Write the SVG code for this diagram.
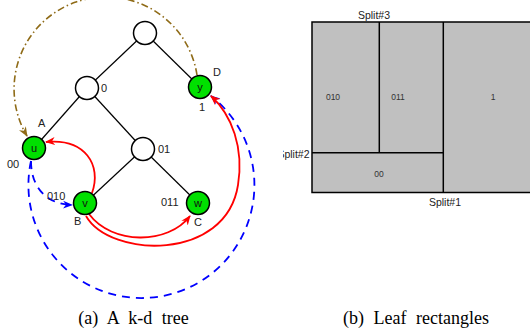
<svg xmlns="http://www.w3.org/2000/svg" width="530" height="331" viewBox="0 0 530 331">
<style>
.e{stroke:#000;stroke-width:1.2;fill:none}
.n{stroke:#000;stroke-width:1.5;fill:#fff}
.g{fill:#00e000}
.t{font-family:"Liberation Sans",Arial,sans-serif;font-size:11px;fill:#222}
.nt{font-family:"Liberation Sans",Arial,sans-serif;font-size:11px;fill:#111;text-anchor:middle}
.r{stroke:#f00;stroke-width:1.8;fill:none}
.b{stroke:#00f;stroke-width:1.8;fill:none;stroke-dasharray:8 6}
.br{stroke:#8f6b17;stroke-width:1.6;fill:none;stroke-dasharray:7 3 1.5 3}
.pt{font-family:"Liberation Sans",Arial,sans-serif;font-size:8.5px;fill:#333;text-anchor:middle}
.st{font-family:"Liberation Sans",Arial,sans-serif;font-size:10.5px;fill:#222}
.cap{font-family:"Liberation Serif","Times New Roman",serif;font-size:18px;fill:#000;text-anchor:middle;word-spacing:5px}
</style>
<defs>
<marker id="mr" viewBox="0 0 10 10" refX="9" refY="5" markerWidth="10" markerHeight="10" markerUnits="userSpaceOnUse" orient="auto"><path d="M0,1 L10,5 L0,9 L3,5 z" fill="#f00"/></marker>
<marker id="mb" viewBox="0 0 10 10" refX="9" refY="5" markerWidth="10" markerHeight="10" markerUnits="userSpaceOnUse" orient="auto"><path d="M0,1 L10,5 L0,9 L3,5 z" fill="#00f"/></marker>
<marker id="mbr" viewBox="0 0 10 10" refX="9" refY="5" markerWidth="10" markerHeight="10" markerUnits="userSpaceOnUse" orient="auto"><path d="M0,1 L10,5 L0,9 L3,5 z" fill="#8f6b17"/></marker>
<clipPath id="cb"><rect x="283" y="0" width="247" height="331"/></clipPath>
</defs>

<g id="connectors">
<line class="e" x1="145" y1="33" x2="87" y2="88"/>
<line class="e" x1="145" y1="33" x2="200" y2="87"/>
<line class="e" x1="87" y1="88" x2="34" y2="148"/>
<line class="e" x1="87" y1="88" x2="143" y2="149"/>
<line class="e" x1="143" y1="149" x2="85" y2="203"/>
<line class="e" x1="143" y1="149" x2="198" y2="203"/>
<path class="br" d="M197 75 A92 92 0 1 0 27 136" marker-end="url(#mbr)"/>
<path class="b" d="M31 161 A113 113 0 1 0 211 96" marker-end="url(#mb)"/>
<path class="b" d="M31 161 C31 186 45 204 72 205" marker-end="url(#mb)"/>
<path class="r" d="M92 193 C102 165 85 138 46 142" marker-end="url(#mr)"/>
<path class="r" d="M89 214 C112 245 168 245 190 216" marker-end="url(#mr)"/>
<path class="r" d="M86 216 C110 258 226 262 238 185 C244 148 232 115 211 96" marker-end="url(#mr)"/>
</g>

<g id="node-root"><circle class="n" cx="145" cy="33" r="11.5"/></g>
<g id="node-0"><circle class="n" cx="87" cy="88" r="11.5"/><text class="t" x="101" y="92">0</text></g>
<g id="node-y"><circle class="n g" cx="200" cy="87" r="11.5"/><text class="nt" x="200" y="91">y</text><text class="t" x="213" y="76">D</text><text class="t" x="199" y="111">1</text></g>
<g id="node-u"><circle class="n g" cx="34" cy="148" r="11.5"/><text class="nt" x="34" y="152">u</text><text class="t" x="38" y="127">A</text><text class="t" x="7" y="168">00</text></g>
<g id="node-01"><circle class="n" cx="143" cy="149" r="11.5"/><text class="t" x="158" y="153">01</text></g>
<g id="node-v"><circle class="n g" cx="85" cy="203" r="11.5"/><text class="nt" x="85" y="207">v</text><text class="t" x="47" y="200">010</text><text class="t" x="74" y="225">B</text></g>
<g id="node-w"><circle class="n g" cx="198" cy="203" r="11.5"/><text class="nt" x="198" y="207">w</text><text class="t" x="161" y="206">011</text><text class="t" x="194" y="226">C</text></g>

<g id="leaf-rectangles" clip-path="url(#cb)">
<rect x="312" y="22" width="230" height="170.5" fill="#c0c0c0" stroke="#000" stroke-width="1.5"/>
<line x1="443.3" y1="22" x2="443.3" y2="192.5" stroke="#000" stroke-width="1.5"/>
<line x1="312" y1="152.7" x2="443.3" y2="152.7" stroke="#000" stroke-width="1.5"/>
<line x1="379.3" y1="22" x2="379.3" y2="152.7" stroke="#000" stroke-width="1.5"/>
<text class="pt" x="333" y="100">010</text>
<text class="pt" x="398" y="100">011</text>
<text class="pt" x="493" y="100">1</text>
<text class="pt" x="379" y="177">00</text>
<text class="st" x="374" y="19" text-anchor="middle">Split#3</text>
<text class="st" x="309.5" y="158" text-anchor="end">Split#2</text>
<text class="st" x="445" y="206" text-anchor="middle">Split#1</text>
</g>

<text class="cap" x="133.5" y="324">(a) A k-d tree</text>
<text class="cap" x="416" y="324">(b) Leaf rectangles</text>
</svg>
